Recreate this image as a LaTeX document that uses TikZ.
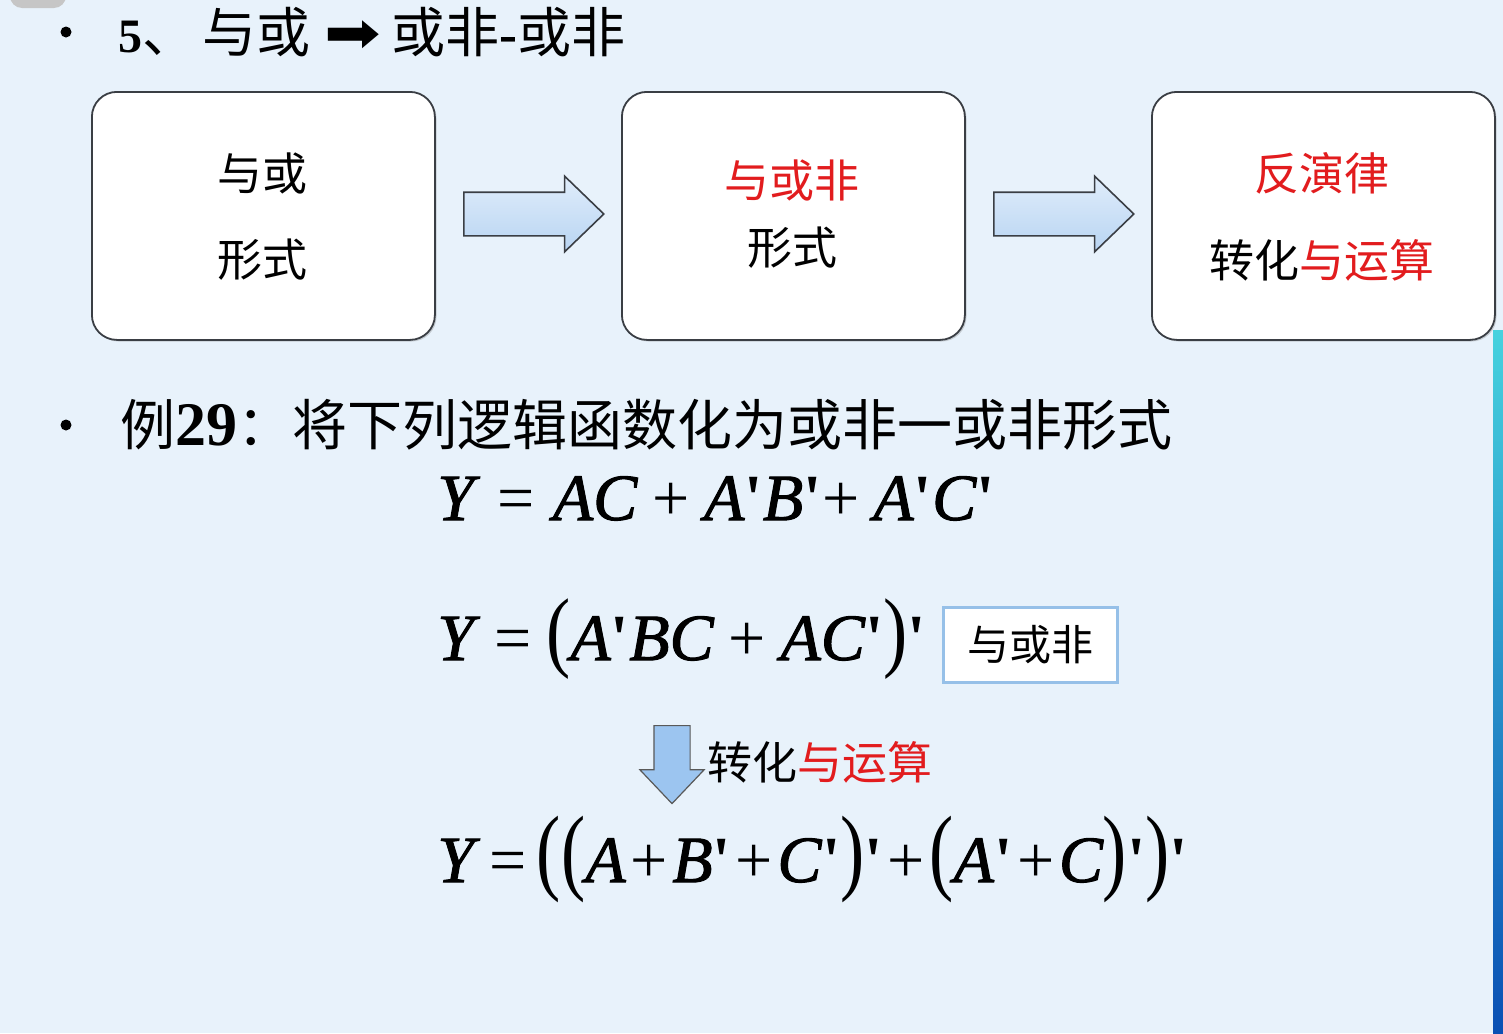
\documentclass[tikz,border=0pt]{standalone}
\usepackage{fontspec}
\usepackage{graphicx}
\usepackage{xcolor}
\usetikzlibrary{shapes.arrows,shadows}
\setmainfont{Liberation Serif}
\newfontfamily\cjk{Noto Sans CJK SC}
\newfontfamily\eqfont{Liberation Serif}[Ligatures=TeXOff, ItalicFeatures={FakeBold=1.5}]
\newfontfamily\symfont{DejaVu Sans}
\definecolor{slidebg}{RGB}{232,242,251}
\definecolor{hotred}{RGB}{226,28,30}
\definecolor{boxedge}{RGB}{58,62,68}
\definecolor{tagedge}{RGB}{150,192,232}
\definecolor{arrowtop}{RGB}{224,237,251}
\definecolor{arrowbot}{RGB}{184,212,242}
\definecolor{downfill}{RGB}{156,197,240}
\definecolor{stripetop}{RGB}{70,210,222}
\definecolor{stripebot}{RGB}{10,80,180}
\newcommand{\tallp}[2][1.35]{\scalebox{1.1}[#1]{\upshape #2}}
\newcommand{\prm}{\textup{\bfseries '}}
\newcommand{\op}[2][0.22em]{\hspace{#1}\textup{#2}\hspace{#1}}

\begin{document}
\begin{tikzpicture}[x=0.5pt,y=-0.5pt,%
% common options for the three blocks:
block/.style = {draw=boxedge, fill=white, line width=0.9pt, rounded corners=12.5pt,
            minimum width=171.5pt, minimum height=124pt, anchor=north west,
            drop shadow={shadow xshift=0.8pt, shadow yshift=-0.8pt, opacity=0.35}},
% common options for the fat arrows:
fatarrow/.style = {shape=single arrow, draw=boxedge, line width=0.8pt, anchor=tail,
            top color=arrowtop, bottom color=arrowbot, inner xsep=0pt},
% text styles:
boxtext/.style = {font=\cjk\fontsize{22.5}{27}\selectfont, inner sep=0},
head/.style = {font=\fontsize{27}{32}\selectfont, anchor=west, inner sep=0},
eq/.style = {font=\eqfont\itshape\fontsize{33}{40}\selectfont, anchor=base west, inner sep=0}]
\useasboundingbox (0,0) rectangle (1503,1033);
\fill[slidebg] (0,0) rectangle (1503,1033);
\fill[gray!45, rounded corners=6pt] (10,-20) rectangle (66,8);
\shade[top color=stripetop, bottom color=stripebot] (1493,330) rectangle (1503,1033);

% heading
\node[circle, fill=black, inner sep=0, minimum size=5.5pt] (bul1) at (66,32) {};
\node[head] (H1) at (118,32) {{\fontsize{24}{28}\selectfont\bfseries 5}\cjk 、\hspace{0.12em}与或\hspace{0.25em}{\symfont\scalebox{1.25}[1.05]{➡}}\hspace{0.2em}或非{\rmfamily\bfseries -}或非};

% blocks
\node[block] (B1) at (91,91) {};
\node[block] (B2) at (621,91) {};
\node[block] (B3) at (1151,91) {};
\node[boxtext] (T1a) at (262,173) {与或};
\node[boxtext] (T1b) at (262,260) {形式};
\node[boxtext, text=hotred] (T2a) at (792,180) {与或非};
\node[boxtext] (T2b) at (792,248) {形式};
\node[boxtext, text=hotred] (T3a) at (1322,173) {反演律};
\node[boxtext] (T3b) at (1322,260) {转化\textcolor{hotred}{与运算}};

% arrows between blocks
\node[fatarrow, minimum height=70pt, inner ysep=10.5pt, single arrow head extend=8pt,
      single arrow tip angle=88] (R1) at (463,214) {};
\node[fatarrow, minimum height=70pt, inner ysep=10.5pt, single arrow head extend=8pt,
      single arrow tip angle=88] (R2) at (993,214) {};

% example
\node[circle, fill=black, inner sep=0, minimum size=5.5pt] (bul2) at (66,425) {};
\node[head, font=\fontsize{27.5}{32}\selectfont] (H2) at (120,425)
      {\cjk 例{\rmfamily\bfseries\fontsize{31}{36}\selectfont 29}：将下列逻辑函数化为或非一或非形式};

\node[eq] (E1) at (437,520) {Y\op[0.27em]{=}AC\op{+}A\prm B\prm\op[0.01em]{+}\hspace{0.2em}A\prm C\prm};
\node[eq] (E2) at (437,660) {Y\op{=}\tallp{(}A\prm BC\op{+}AC\prm\tallp{)}\prm};
\node[draw=tagedge, line width=1.5pt, fill=white, minimum width=87pt, minimum height=37.5pt,
      font=\cjk\fontsize{21}{25}\selectfont] (tag) at (1030,645) {与或非};

\node[shape=single arrow, shape border rotate=270, draw=gray!70!black, line width=0.6pt,
      fill=downfill, anchor=tail, minimum height=39pt, inner xsep=8.75pt, inner ysep=0pt,
      single arrow head extend=7pt, single arrow tip angle=87] (D1) at (672,725) {};
\node[boxtext, anchor=west] (lbl) at (707,762) {转化\textcolor{hotred}{与运算}};

\node[eq] (E3) at (437,882) {Y\op[0.15em]{=}\tallp[1.45]{(}\tallp[1.45]{(}A\op[0.07em]{+}B\prm\op[0.07em]{+}C\prm\tallp[1.45]{)}\prm\op[0.07em]{+}\tallp[1.45]{(}A\prm\op[0.07em]{+}C\tallp[1.45]{)}\prm\tallp[1.45]{)}\prm};
\end{tikzpicture}
\end{document}
